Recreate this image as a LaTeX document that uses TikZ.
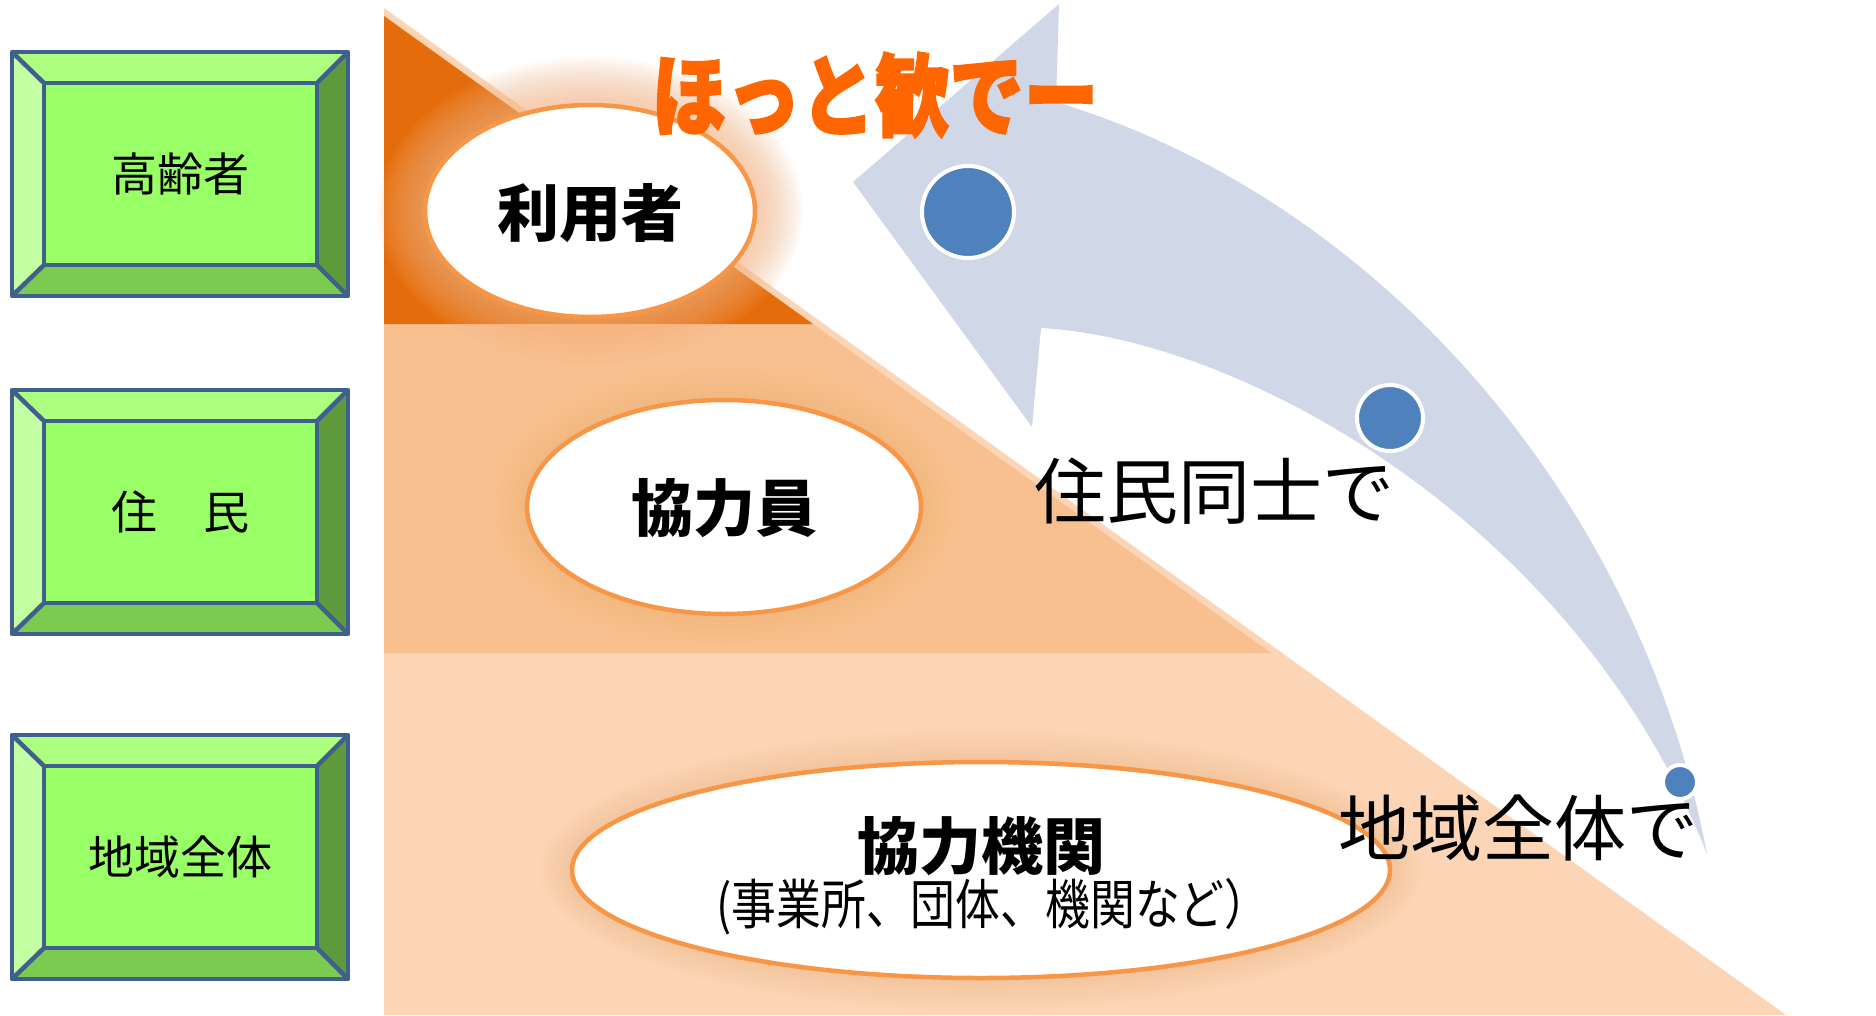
\documentclass[tikz,border=0pt]{standalone}
\usepackage{fontspec}
\newfontfamily\jp{Noto Sans CJK JP}
\newfontfamily\jptitle[FakeBold=2.5]{Noto Sans CJK JP}
\usetikzlibrary{shapes.geometric}
\definecolor{tierA}{HTML}{E46C0A}
\definecolor{tierB}{HTML}{F9C08F}
\definecolor{tierC}{HTML}{FBD5B5}
\definecolor{ellline}{HTML}{F79646}
\definecolor{arrowcol}{HTML}{D0D8E8}
\definecolor{dotcol}{HTML}{4F81BD}
\definecolor{titlecol}{HTML}{FF6600}
\definecolor{bvTop}{HTML}{ADFF80}
\definecolor{bvLeft}{HTML}{C4FFA3}
\definecolor{bvCenter}{HTML}{99FF66}
\definecolor{bvBottom}{HTML}{7ACB50}
\definecolor{bvRight}{HTML}{5E9A3C}
\definecolor{bvLine}{HTML}{3F5F8E}
\definecolor{glowA}{HTML}{F7B584}
\definecolor{glowB}{HTML}{F2A466}
\tikzset{
  tierlabel/.style={font=\jp\bfseries\fontsize{62}{70}\selectfont, text=black, inner sep=0pt},
  bevellabel/.style={font=\jp\fontsize{46}{52}\selectfont, text=black, inner sep=0pt},
  sidetext/.style={font=\jp\fontsize{72}{80}\selectfont, text=black, inner sep=0pt},
  subtext/.style={font=\jp\fontsize{54}{60}\selectfont, text=black, inner sep=0pt},
  titletext/.style={font=\jptitle\bfseries\fontsize{80}{86}\selectfont, text=titlecol, inner sep=0pt},
  ovalnode/.style={ellipse, draw=ellline, line width=4.5pt, fill=white, inner sep=0pt},
  dotnode/.style={circle, fill=dotcol, draw=white, line width=4pt, inner sep=0pt},
  bevelline/.style={draw=bvLine, line width=4.5pt, line join=round},
}
\begin{document}
\begin{tikzpicture}[x=1pt,y=-1pt]
\useasboundingbox (0,0) rectangle (1876,1015);
\fill[white] (0,0) rectangle (1876,1015);

% ---- bevel boxes ----
\foreach \yt/\lab/\nm in {52/高齢者/b1, 390/住　民/b2, 735/地域全体/b3}{
  \fill[bvTop] (12,\yt) -- (348,\yt) -- (317,\yt+31) -- (44,\yt+31) -- cycle;
  \fill[bvLeft] (12,\yt) -- (44,\yt+31) -- (44,\yt+213) -- (12,\yt+244) -- cycle;
  \fill[bvBottom] (12,\yt+244) -- (44,\yt+213) -- (317,\yt+213) -- (348,\yt+244) -- cycle;
  \fill[bvRight] (348,\yt) -- (317,\yt+31) -- (317,\yt+213) -- (348,\yt+244) -- cycle;
  \fill[bvCenter] (44,\yt+31) rectangle (317,\yt+213);
  \draw[bevelline] (12,\yt) rectangle (348,\yt+244);
  \draw[bevelline] (44,\yt+31) rectangle (317,\yt+213);
  \draw[bevelline] (12,\yt) -- (44,\yt+31) (348,\yt) -- (317,\yt+31)
                   (12,\yt+244) -- (44,\yt+213) (348,\yt+244) -- (317,\yt+213);
  \node[bevellabel] (lab\nm) at (180.5,\yt+122) {\lab};
}

% ---- pyramid ----
\fill[tierC] (384,8) -- (1786,1015) -- (384,1015) -- cycle;
\fill[tierB] (384,324) -- (813,324) -- (1271,653) -- (384,653) -- cycle;
\fill[tierA] (384,16) -- (813,324) -- (384,324) -- cycle;

% glows
\foreach \i in {1,...,16}{
  \pgfmathsetmacro\rx{165+3*\i}\pgfmathsetmacro\ry{106+3*\i}
  \fill[glowA, opacity=0.06] (590,211) ellipse [x radius=\rx pt, y radius=\ry pt];
}
\foreach \i in {1,...,8}{
  \pgfmathsetmacro\rx{197+4*\i}\pgfmathsetmacro\ry{107+4*\i}
  \fill[glowB, opacity=0.03] (724,507) ellipse [x radius=\rx pt, y radius=\ry pt];
  \pgfmathsetmacro\rx{409+4*\i}\pgfmathsetmacro\ry{108+4*\i}
  \fill[glowB, opacity=0.03] (981,870) ellipse [x radius=\rx pt, y radius=\ry pt];
}

% ---- curved arrow ----
\fill[arrowcol] (853,182) -- (1059,4) -- (1056,102)
  .. controls (1380,200) and (1640,500) .. (1707,854)
  .. controls (1580,530) and (1250,340) .. (1041,328)
  -- (1032,427) -- cycle;

% ---- ellipses ----
\node[ovalnode, minimum width=330pt, minimum height=212pt] (user) at (590,211) {};
\node[tierlabel] (userlab) at (590,213) {利用者};
\node[ovalnode, minimum width=394pt, minimum height=214pt] (helper) at (724,507) {};
\node[tierlabel] (helperlab) at (724,508) {協力員};
\node[ovalnode, minimum width=818pt, minimum height=216pt] (org) at (981,870) {};
\node[tierlabel] (orglab) at (981,846) {協力機関};
\node[subtext] (orgsub) at (993,907) {\scalebox{0.83}[1]{(事業所、団体、機関など）}};

% ---- dots ----
\node[dotnode, minimum size=92pt] (dot1) at (968,212) {};
\node[dotnode, minimum size=66pt] (dot2) at (1390,418) {};
\node[dotnode, minimum size=34pt] (dot3) at (1680,782) {};

% ---- texts ----
\node[titletext] (title) at (875,95) {\scalebox{0.93}[1.12]{ほっと歓でー}};
\node[sidetext] (mutual) at (1214,491) {住民同士で};
\node[sidetext] (region) at (1518,828) {地域全体で};
\end{tikzpicture}
\end{document}
